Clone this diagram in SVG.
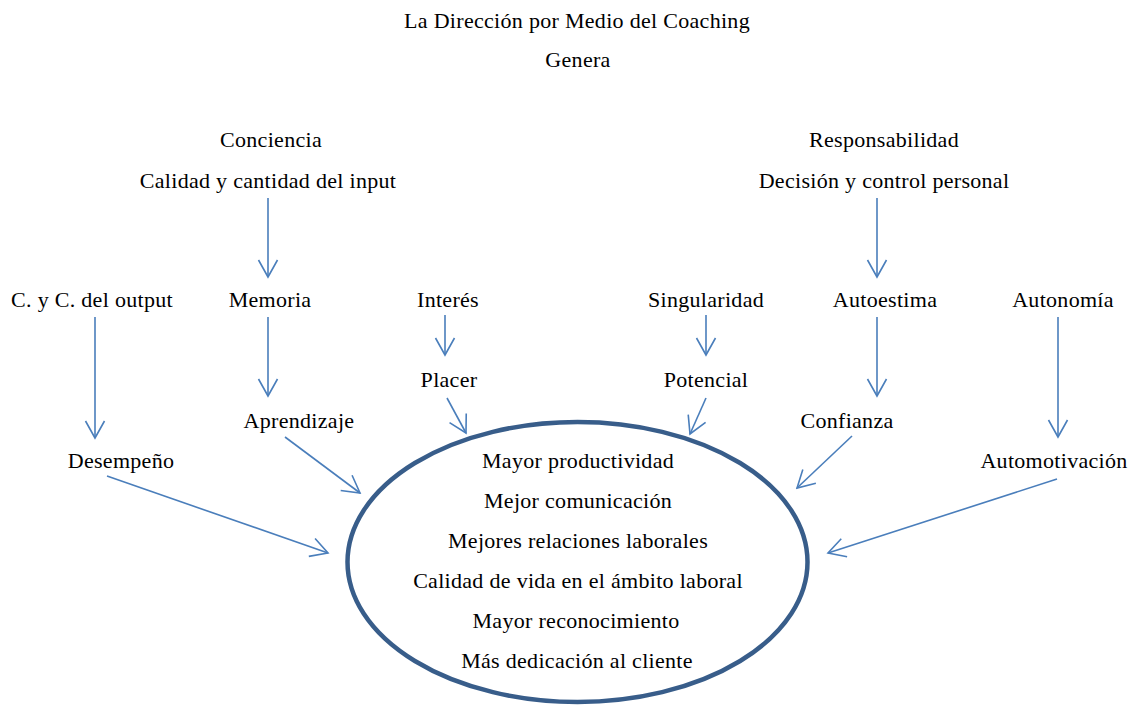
<svg xmlns="http://www.w3.org/2000/svg" width="1133" height="706" viewBox="0 0 1133 706">
<style>
text{font-family:'Liberation Serif','Times New Roman',serif;font-size:22px;letter-spacing:0.3px;fill:#000;text-anchor:middle}
.c{fill:none;stroke:#4A7EBB;stroke-width:1.6}
</style>
<defs>
<marker id="ah" viewBox="-20 -12 22 24" refX="0" refY="0" markerWidth="22" markerHeight="24" markerUnits="userSpaceOnUse" orient="auto">
<path d="M-17,-9.5 L0,0 L-17,9.5" fill="none" stroke="#4A7EBB" stroke-width="1.6"/>
</marker>
</defs>
<rect width="1133" height="706" fill="#fff"/>
<g id="title"><text x="577" y="28">La Dirección por Medio del Coaching</text><text x="578" y="67">Genera</text></g>
<g id="conciencia"><text x="271" y="147">Conciencia</text><text x="268" y="188">Calidad y cantidad del input</text></g>
<g id="responsabilidad"><text x="884" y="147">Responsabilidad</text><text x="884" y="188">Decisión y control personal</text></g>
<g id="output"><text x="92" y="307">C. y C. del output</text></g>
<g id="memoria"><text x="270" y="307">Memoria</text></g>
<g id="interes"><text x="448" y="307">Interés</text></g>
<g id="singularidad"><text x="706" y="307">Singularidad</text></g>
<g id="autoestima"><text x="885" y="307">Autoestima</text></g>
<g id="autonomia"><text x="1063" y="307">Autonomía</text></g>
<g id="placer"><text x="449" y="387">Placer</text></g>
<g id="potencial"><text x="706" y="387">Potencial</text></g>
<g id="aprendizaje"><text x="299" y="428">Aprendizaje</text></g>
<g id="confianza"><text x="847" y="428">Confianza</text></g>
<g id="desempeno"><text x="121" y="468">Desempeño</text></g>
<g id="automotivacion"><text x="1054" y="468">Automotivación</text></g>
<g id="resultados">
<ellipse cx="577.5" cy="562" rx="230" ry="140" fill="none" stroke="#385D8A" stroke-width="4.5"/>
<text x="578" y="468">Mayor productividad</text>
<text x="578" y="508">Mejor comunicación</text>
<text x="578" y="548">Mejores relaciones laborales</text>
<text x="578" y="588">Calidad de vida en el ámbito laboral</text>
<text x="576" y="628">Mayor reconocimiento</text>
<text x="577" y="668">Más dedicación al cliente</text>
</g>
<g id="connectors">
<line class="c" x1="268" y1="198" x2="268" y2="277" marker-end="url(#ah)"/>
<line class="c" x1="95" y1="317" x2="95" y2="438" marker-end="url(#ah)"/>
<line class="c" x1="268" y1="317" x2="268" y2="396" marker-end="url(#ah)"/>
<line class="c" x1="445" y1="315" x2="445" y2="355" marker-end="url(#ah)"/>
<line class="c" x1="706" y1="315" x2="706" y2="355" marker-end="url(#ah)"/>
<line class="c" x1="877" y1="198" x2="877" y2="277" marker-end="url(#ah)"/>
<line class="c" x1="877" y1="317" x2="877" y2="396" marker-end="url(#ah)"/>
<line class="c" x1="1058" y1="317" x2="1058" y2="437" marker-end="url(#ah)"/>
<line class="c" x1="447" y1="398" x2="466" y2="433" marker-end="url(#ah)"/>
<line class="c" x1="706" y1="398" x2="690" y2="434" marker-end="url(#ah)"/>
<line class="c" x1="285" y1="437" x2="360" y2="493" marker-end="url(#ah)"/>
<line class="c" x1="852" y1="436" x2="797" y2="488" marker-end="url(#ah)"/>
<line class="c" x1="107" y1="476" x2="328" y2="553" marker-end="url(#ah)"/>
<line class="c" x1="1057" y1="479" x2="828" y2="553" marker-end="url(#ah)"/>
</g>
</svg>
